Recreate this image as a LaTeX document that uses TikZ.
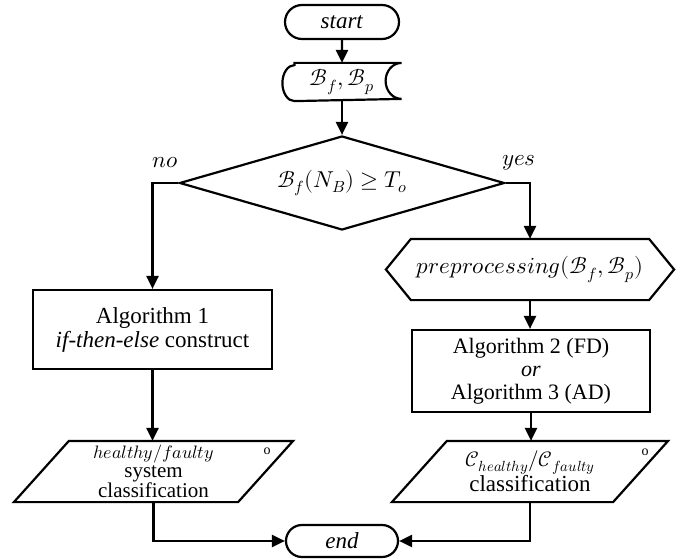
\documentclass[tikz,border=0pt]{standalone}
\usepackage{fontspec}
\usepackage{unicode-math}
\setmainfont{Liberation Serif}
\setmathfont{Latin Modern Math}
\usepackage{tikz}
\usetikzlibrary{arrows.meta,positioning,shapes.geometric,shapes.misc}

\begin{document}
\begin{tikzpicture}[x=1pt,y=-1pt,line width=2.2pt,
  font=\fontsize{23}{22}\selectfont,
  term/.style={rounded rectangle,draw,minimum width=114pt,minimum height=34pt,inner sep=0pt},
  proc/.style={rectangle,draw,align=center,inner sep=0pt},
  blank/.style={rectangle,align=center,inner sep=0pt},
  flow/.style={-{Triangle[length=13pt,width=12pt]}}]
% フローチャート
\useasboundingbox (0,0) rectangle (683,559);
\node[term] (start) at (342,22) {\textit{start}};
\node[blank,minimum width=117pt,minimum height=36pt] (data) at (342,82) {$\mathcal{B}_f,\mathcal{B}_p$};
\draw ([xshift=12pt]data.north west) -- (data.north east)
  arc[start angle=90,end angle=270,x radius=16pt,y radius=18pt]
  -- ([xshift=12pt]data.south west)
  arc[start angle=270,end angle=90,x radius=12pt,y radius=18pt] -- cycle;
\node[draw,diamond,aspect=3.46,minimum width=325pt,minimum height=94pt,inner sep=0pt] (cond) at (342,183) {$\mathcal{B}_f(N_B)\geq T_o$};
\node (no) at (165,163) {$no$};
\node (yes) at (519,163) {$yes$};

\node[proc,minimum width=239pt,minimum height=79pt,font=\fontsize{23}{24}\selectfont] (alg1) at (152.5,329.5) {Algorithm 1\\\textit{if-then-else} construct};
\node[blank,minimum width=286pt,minimum height=59pt] (prep) at (530,269.5) {$preprocessing(\mathcal{B}_f,\mathcal{B}_p)$};
\draw (prep.west) -- ([xshift=25pt]prep.north west) -- ([xshift=-25pt]prep.north east) -- (prep.east)
  -- ([xshift=-25pt]prep.south east) -- ([xshift=25pt]prep.south west) -- cycle;
\node[proc,minimum width=238pt,minimum height=82pt,font=\fontsize{22}{23}\selectfont] (alg23) at (531,371) {Algorithm 2 (FD)\\\textit{or}\\Algorithm 3 (AD)};

\node[blank,minimum width=277pt,minimum height=59pt,font=\fontsize{21}{19}\selectfont] (out1) at (153.5,471.5) {{\fontsize{18}{19}\selectfont$healthy/faulty$}\\system\\classification};
\draw ([xshift=55pt]out1.north west) -- (out1.north east) -- ([xshift=-55pt]out1.south east) -- (out1.south west) -- cycle;
\node[blank,minimum width=274pt,minimum height=59pt,font=\fontsize{23}{23}\selectfont] (out2) at (530,471.5) {{\fontsize{21}{23}\selectfont$\mathcal{C}_{healthy}/\mathcal{C}_{faulty}$}\\classification};
\draw ([xshift=55pt]out2.north west) -- (out2.north east) -- ([xshift=-55pt]out2.south east) -- (out2.south west) -- cycle;
\node[font=\fontsize{14}{14}\selectfont] (mk1) at (267,451) {o};
\node[font=\fontsize{14}{14}\selectfont] (mk2) at (645,452) {o};
\node[term,minimum width=112pt,minimum height=32pt] (finish) at (342,541) {\textit{end}};

\draw[flow] (start) -- (data);
\draw[flow] (data) -- (cond);
\draw[flow] (cond.west) -| (alg1.north);
\draw[flow] (cond.east) -| (prep.north);
\draw[flow] (prep.south) -- (prep.south |- alg23.north);
\draw[flow] (alg1.south) -- (alg1.south |- out1.north);
\draw[flow] (alg23.south) -- (alg23.south |- out2.north);
\draw[flow] (out1.south) |- (finish.west);
\draw[flow] (out2.south) |- (finish.east);
\end{tikzpicture}
\end{document}
